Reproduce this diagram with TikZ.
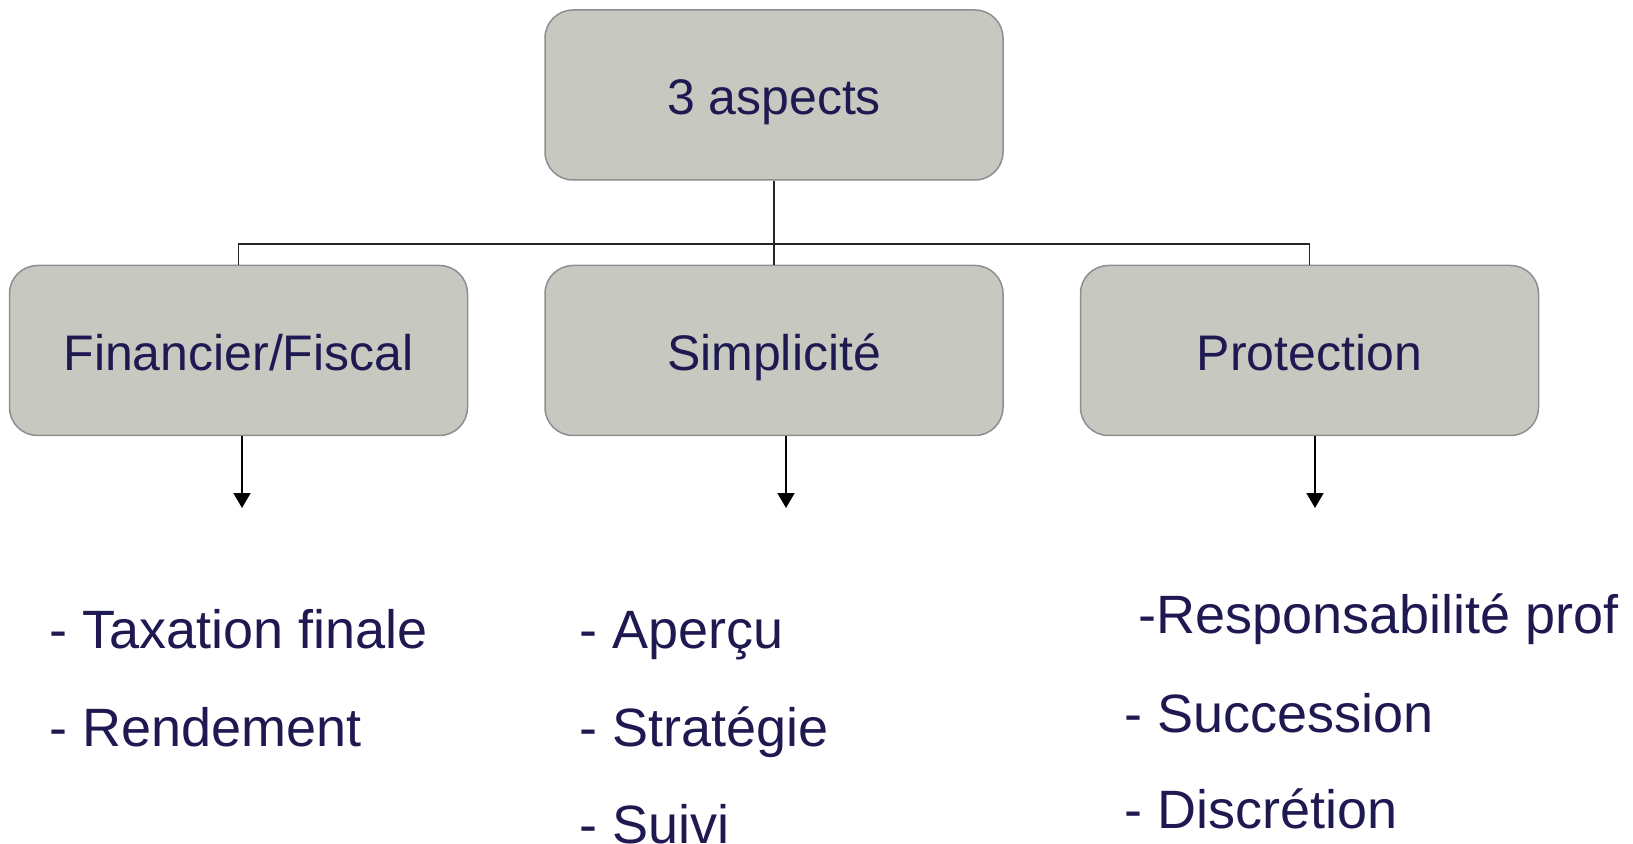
\documentclass[tikz,border=0pt]{standalone}
\usepackage{fontspec}
\setmainfont{Liberation Sans}
\usepackage{tikz}
\usetikzlibrary{positioning, arrows.meta}
\definecolor{boxgray}{RGB}{199,201,193}
\definecolor{boxline}{RGB}{140,143,143}
\definecolor{navytext}{RGB}{31,25,82}
\tikzset{AspectBox/.style={%
    shape=rectangle,%
    rounded corners=14pt,%
    draw=boxline,%
    fill=boxgray,%
    line width=0.75pt,%
    minimum width=229pt,%
    minimum height=85pt,%
    inner sep=0pt,%
    text=navytext,%
    text height=20pt,%
    text depth=0pt,%
    font=\fontsize{25}{30}\selectfont,%
}}
\tikzset{ListItem/.style={%
    anchor=base west,%
    inner sep=0pt,%
    text=navytext,%
    font=\fontsize{27}{32}\selectfont,%
}}
\tikzset{TreeEdge/.style={%
    draw=black!85,%
    line width=0.6pt,%
}}
\tikzset{DownArrow/.style={%
    -{Triangle[length=7.5pt,width=8.5pt]},%
    line width=0.8pt,%
}}
\NewDocumentCommand{\itemLabel}{s m}{%
    \IfBooleanTF{#1}{%
        -#2%
    }{%
        - #2%
    }%
}

\begin{document}
\begin{tikzpicture}[x=0.5pt, y=-0.5pt]
    \useasboundingbox (0,0) rectangle (1633,844);
    \clip (0,0) rectangle (1633,844);

    \node[AspectBox] (top) at (774,95) {3 aspects};
    \node[AspectBox, below=42pt of top] (sim) {Simplicité};
    \node[AspectBox, left=38pt of sim] (fin) {Financier/Fiscal};
    \node[AspectBox, right=38pt of sim] (prot) {Protection};

    % tree connectors
    \coordinate (bar) at (0,244);
    \draw[TreeEdge] (top.south) -- (sim.north);
    \draw[TreeEdge] (fin.north) -- (fin.north |- bar) -- (prot.north |- bar) -- (prot.north);

    % arrows to the lists
    \coordinate (finEnd) at (242,508);
    \coordinate (simEnd) at (786,508);
    \coordinate (protEnd) at (1315,508);
    \draw[DownArrow] (fin.south -| finEnd) -- (finEnd);
    \draw[DownArrow] (sim.south -| simEnd) -- (simEnd);
    \draw[DownArrow] (prot.south -| protEnd) -- (protEnd);

    \node[ListItem] (fin1) at (49,648) {\itemLabel{Taxation finale}};
    \node[ListItem] (fin2) at (49,746) {\itemLabel{Rendement}};
    \node[ListItem] (sim1) at (579,648) {\itemLabel{Aperçu}};
    \node[ListItem] (sim2) at (579,746) {\itemLabel{Stratégie}};
    \node[ListItem] (sim3) at (579,843) {\itemLabel{Suivi}};
    \node[ListItem] (prot1) at (1138,633) {\itemLabel*{Responsabilité prof}};
    \node[ListItem] (prot2) at (1124,732) {\itemLabel{Succession}};
    \node[ListItem] (prot3) at (1124,828) {\itemLabel{Discrétion}};
\end{tikzpicture}
\end{document}
